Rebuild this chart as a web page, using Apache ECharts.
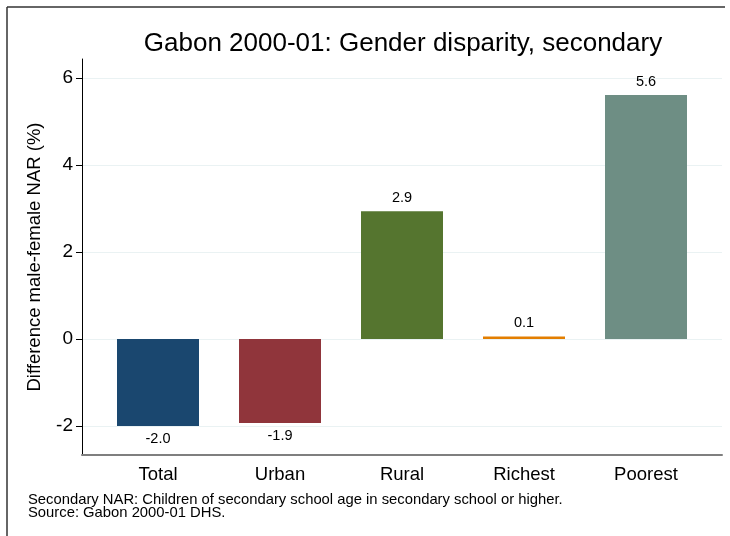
<!DOCTYPE html>
<html>
<head>
<meta charset="utf-8">
<script src="https://cdn.jsdelivr.net/npm/echarts@6/dist/echarts.min.js"></script>
<style>html,body{margin:0;padding:0;background:#fff}#c{width:730px;height:536px}</style>
</head>
<body>
<div id="c"></div>
<script>
var categories = ["Total", "Urban", "Rural", "Richest", "Poorest"];
var values = [-2.0, -1.93, 2.94, 0.06, 5.61];
var barColors = ["#1a476f", "#90353b", "#55752f", "#e37e00", "#6e8e84"];
var yTicks = [-2, 0, 2, 4, 6];
var titleText = "Gabon 2000-01: Gender disparity, secondary";
var yName = "Difference male-female NAR (%)";
var noteLines = ["Secondary NAR: Children of secondary school age in secondary school or higher.", "Source: Gabon 2000-01 DHS."];

var FONT = "Liberation Sans, Arial, sans-serif";
var yMin = -2.667, yMax = 6.44;
var chart = echarts.init(document.getElementById('c'));
var option = {
  animation: false,
  backgroundColor: '#fff',
  textStyle: {fontFamily: FONT},
  title: {
    text: titleText, left: 398, top: 26, textAlign: 'center',
    textStyle: {fontFamily: FONT, fontSize: 26, fontWeight: 'normal', color: '#000'}
  },
  grid: [
    {left: 82, right: 8, top: 59, bottom: 81},
    {left: 97, width: 610, top: 59, bottom: 81}
  ],
  xAxis: [
    {gridIndex: 0, type: 'value', min: 0, max: 1,
     axisLine: {show: true, onZero: false, lineStyle: {color: '#7f7f7f', width: 2}},
     axisTick: {show: false}, axisLabel: {show: false}, splitLine: {show: false}},
    {gridIndex: 1, type: 'category', data: categories,
     axisLine: {show: false}, axisTick: {show: false},
     axisLabel: {margin: 10, fontSize: 18.5, color: '#000', fontFamily: FONT}}
  ],
  yAxis: [
    {gridIndex: 0, type: 'value', min: yMin, max: yMax,
     name: yName, nameLocation: 'middle', nameGap: 38,
     nameTextStyle: {fontSize: 18.5, color: '#000', fontFamily: FONT},
     axisLine: {show: true, onZero: false, lineStyle: {color: '#000', width: 1}},
     axisTick: {show: true, length: 6, lineStyle: {color: '#000'}, customValues: yTicks},
     axisLabel: {margin: 9, fontSize: 19, color: '#000', fontFamily: FONT, customValues: yTicks},
     splitLine: {show: true, lineStyle: {color: '#eaf2f3', width: 1}}},
    {gridIndex: 1, type: 'value', min: yMin, max: yMax, show: false,
     splitLine: {show: false}}
  ],
  series: [{
    type: 'bar', xAxisIndex: 1, yAxisIndex: 1, barWidth: 82,
    data: values.map(function (v, i) {
      return {value: v, itemStyle: {color: barColors[i]},
              label: {position: v < 0 ? 'bottom' : 'top'}};
    }),
    label: {show: true, distance: 6, fontSize: 14.5, color: '#000', fontFamily: FONT,
            formatter: function (p) { return p.value.toFixed(1); }}
  }],
  graphic: [
    {type: 'line', shape: {x1: 7, y1: 7, x2: 725, y2: 7}, style: {stroke: '#333', lineWidth: 1.5}},
    {type: 'line', shape: {x1: 7, y1: 7, x2: 7, y2: 536}, style: {stroke: '#333', lineWidth: 1.5}},
    {type: 'text', left: 28, top: 492,
     style: {text: noteLines.join('\n'), font: '14.8px ' + FONT, fill: '#000', lineHeight: 13}}
  ]
};
chart.setOption(option);
</script>
</body>
</html>
